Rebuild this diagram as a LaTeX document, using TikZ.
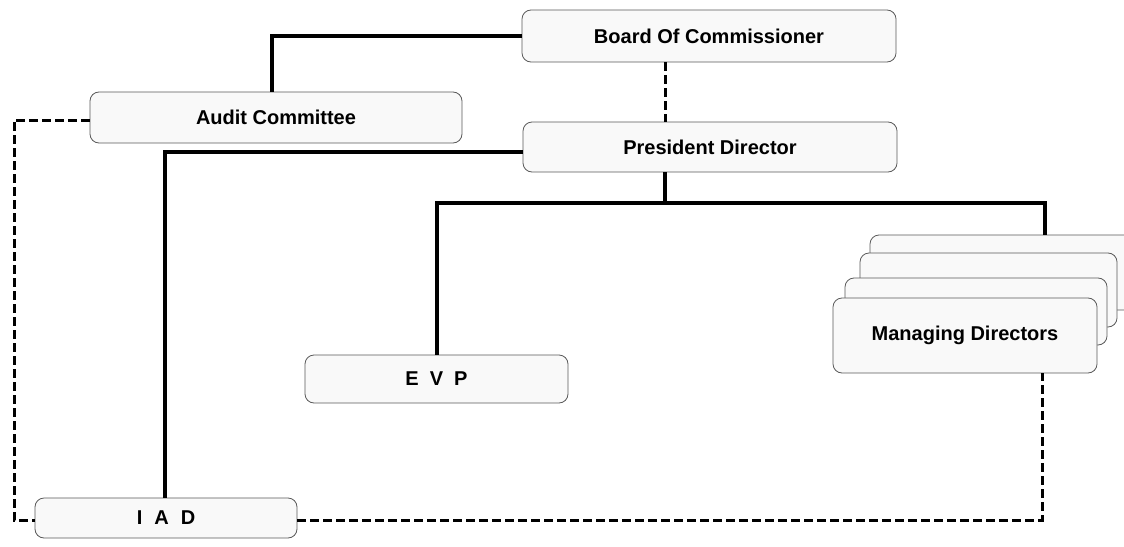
\documentclass[tikz,border=0pt]{standalone}
\usepackage{fontspec}
\setmainfont{Liberation Sans}
\begin{document}
\begin{tikzpicture}[x=1pt,y=-1pt,
  box/.style={draw=black!65, line width=0.8pt, fill=gray!5, rounded corners=9pt, inner sep=0pt,
    font=\fontsize{20}{24}\selectfont\bfseries},
  solidline/.style={line width=3.3pt, draw=black},
  dashline/.style={draw=black, dash pattern=on 9pt off 4pt, line width=3pt}]
\useasboundingbox (0,0) rectangle (1124,546);
\clip (0,0) rectangle (1124,546);
% boxes
\node[box, minimum width=374pt, minimum height=52pt] (board) at (709,36) {Board Of Commissioner};
\node[box, minimum width=372pt, minimum height=51pt] (audit) at (276,117.5) {Audit Committee};
\node[box, minimum width=374pt, minimum height=50pt] (pres) at (710,147) {President Director};
\node[box, minimum width=263pt, minimum height=48pt] (evp) at (436.5,379) {E\hskip 11pt V\hskip 11pt P};
\node[box, minimum width=262pt, minimum height=40pt] (iad) at (166,518) {I\hskip 12pt A\hskip 12pt D};
% managing directors stack
\node[box, minimum width=265pt, minimum height=75pt] (md1) at (1002.5,272.5) {};
\node[box, minimum width=257pt, minimum height=74pt] (md2) at (988.5,290) {};
\node[box, minimum width=262pt, minimum height=67pt] (md3) at (976,311.5) {};
\node[box, minimum width=264pt, minimum height=75pt] (md) at (965,335.5) {Managing Directors};
% helper coordinates
\coordinate (bx) at (665,0);
\coordinate (split) at (665,203);
\coordinate (evpx) at (437,0);
\coordinate (mdx) at (1045,0);
\coordinate (leftx) at (14,0);
\coordinate (iadx) at (165,0);
\coordinate (auditx) at (272,0);
\coordinate (mdout) at (1042,0);
% solid connectors
\draw[solidline] (board.west) -| (auditx |- audit.north);
\draw[solidline] (pres.west |- 0,152) -| (iadx |- iad.north);
\draw[solidline] (bx |- pres.south) -- (split);
\draw[solidline] (evpx |- evp.north) |- (split) -| (mdx |- md1.north);
% dashed connectors
\draw[dashline] (bx |- board.south) -- (bx |- pres.north);
\draw[dashline] (audit.west |- 0,120) -| (leftx |- 0,520) -- (iad.west |- 0,520);
\draw[dashline] (iad.east |- 0,520) -| (mdout |- md.south);
\end{tikzpicture}
\end{document}
